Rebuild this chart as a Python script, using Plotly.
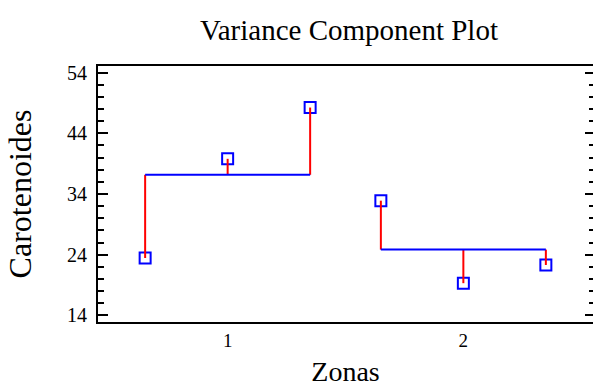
import plotly.graph_objects as go

# Data
zones = [1, 2]
zone_labels = ["1", "2"]
values = {
    1: [23.45, 39.8, 48.25],
    2: [32.9, 19.3, 22.3],
}
y_ticks = [14, 24, 34, 44, 54]

spread = 0.35  # horizontal spread of points within a zone

fig = go.Figure()

stem_x, stem_y = [], []
mean_x, mean_y = [], []
pt_x, pt_y = [], []
for z in zones:
    vals = values[z]
    n = len(vals)
    m = sum(vals) / n
    xs = [z - spread + 2 * spread * i / (n - 1) for i in range(n)]
    for xv, yv in zip(xs, vals):
        stem_x += [xv, xv, None]
        stem_y += [m, yv, None]
        pt_x.append(xv)
        pt_y.append(yv)
    mean_x += [xs[0], xs[-1], None]
    mean_y += [m, m, None]

fig.add_trace(go.Scatter(x=pt_x, y=pt_y, mode="markers",
                         marker=dict(symbol="square-open", size=11, color="#0000ff",
                                     line=dict(width=2, color="#0000ff")),
                         hoverinfo="skip", showlegend=False))
fig.add_trace(go.Scatter(x=stem_x, y=stem_y, mode="lines",
                         line=dict(color="#ff0000", width=2),
                         hoverinfo="skip", showlegend=False))
fig.add_trace(go.Scatter(x=mean_x, y=mean_y, mode="lines",
                         line=dict(color="#0000ff", width=2),
                         hoverinfo="skip", showlegend=False))
# invisible trace to activate the right-hand tick axis
fig.add_trace(go.Scatter(x=[None], y=[None], yaxis="y2", showlegend=False, hoverinfo="skip"))

serif = "Liberation Serif, Times New Roman, serif"

fig.update_layout(
    width=593, height=387,
    margin=dict(l=98, r=0, t=66, b=65),
    paper_bgcolor="white", plot_bgcolor="white",
    font=dict(family=serif, color="black"),
    title=dict(text="Variance Component Plot", font=dict(size=29, family=serif, color="black"),
               x=0.507, xref="paper", xanchor="center",
               y=1 - 30 / 387, yref="container", yanchor="middle"),
    xaxis=dict(range=[0.45, 2.55], tickvals=zones, ticktext=zone_labels,
               showgrid=False, zeroline=False, showline=True, linecolor="black",
               linewidth=2, mirror=True, ticks="", tickfont=dict(size=19),
               title=dict(text="Zonas", font=dict(size=28), standoff=18)),
    yaxis=dict(range=[12.9, 55.1], tickvals=y_ticks,
               showgrid=False, zeroline=False, showline=True, linecolor="black",
               linewidth=2, mirror=False, ticks="inside", ticklen=10, tickwidth=2,
               tickcolor="black", tickfont=dict(size=20), ticklabelstandoff=5,
               minor=dict(dtick=2, tick0=14, ticks="inside", ticklen=6, tickwidth=2,
                          tickcolor="black", showgrid=False),
               title=dict(text="Carotenoides", font=dict(size=32), standoff=26)),
    yaxis2=dict(range=[12.9, 55.1], tickvals=y_ticks, overlaying="y", side="right",
                showgrid=False, zeroline=False, showline=False, showticklabels=False,
                ticks="inside", ticklen=8, tickwidth=2, tickcolor="black",
                minor=dict(dtick=2, tick0=14, ticks="inside", ticklen=4, tickwidth=2,
                           tickcolor="black", showgrid=False)),
)

fig.write_html("out.html")
